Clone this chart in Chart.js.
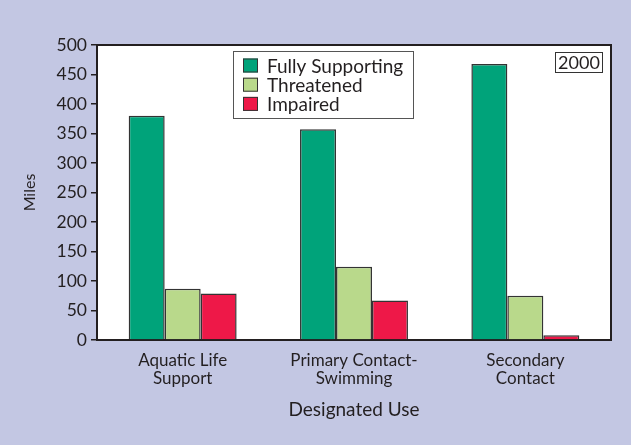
<!DOCTYPE html>
<html>
<head>
<meta charset="utf-8">
<script src="https://cdn.jsdelivr.net/npm/chart.js@4/dist/chart.umd.min.js"></script>
<style>
  html, body { margin: 0; padding: 0; background: #c3c7e3; }
  canvas { display: block; }
</style>
</head>
<body>
<canvas id="c" width="631" height="445"></canvas>
<script>
const categories = [["Aquatic Life", "Support"], ["Primary Contact-", "Swimming"], ["Secondary", "Contact"]];
const seriesNames = ["Fully Supporting", "Threatened", "Impaired"];
const fullySupporting = [380, 357, 468];
const threatened = [87, 124, 75];
const impaired = [79, 67, 8];
const yTicks = [0, 50, 100, 150, 200, 250, 300, 350, 400, 450, 500];
const yearLabel = "2000";
const yTitle = "Miles";
const xTitle = "Designated Use";

const colors = ["#00a37a", "#b9d98b", "#ee1848"];
const FONT = "Lato, 'Open Sans', sans-serif";
const TEXT = "#231f20";

const areaPlugin = {
  id: 'area',
  beforeDraw(chart) {
    const {ctx, chartArea: a} = chart;
    ctx.save();
    ctx.fillStyle = '#c3c7e3';
    ctx.fillRect(0, 0, chart.width, chart.height);
    ctx.fillStyle = '#ffffff';
    ctx.fillRect(a.left, a.top, a.right - a.left, a.bottom - a.top);
    ctx.restore();
  },
  afterDraw(chart) {
    const {ctx, chartArea: a} = chart;
    ctx.save();
    ctx.strokeStyle = '#231f20';
    ctx.lineWidth = 2;
    ctx.beginPath();
    ctx.moveTo(a.left, a.top);
    ctx.lineTo(a.right, a.top);
    ctx.lineTo(a.right, a.bottom);
    ctx.stroke();

    // legend box
    const lx = 233, ly = 51, lw = 180, lh = 67;
    ctx.fillStyle = '#ffffff';
    ctx.fillRect(lx, ly, lw, lh);
    ctx.strokeStyle = '#555555';
    ctx.lineWidth = 1;
    ctx.strokeRect(lx + 0.5, ly + 0.5, lw, lh);
    ctx.font = "19px " + FONT;
    ctx.textBaseline = 'middle';
    ctx.textAlign = 'left';
    chart.data.datasets.forEach((ds, i) => {
      const cy = 65.5 + i * 19.2;
      ctx.fillStyle = ds.backgroundColor;
      ctx.fillRect(243, cy - 7, 15, 14);
      ctx.strokeStyle = '#333333';
      ctx.strokeRect(243.5, cy - 6.5, 14, 13);
      ctx.fillStyle = TEXT;
      ctx.fillText(ds.label, 267, cy + 1);
    });

    // year box
    ctx.fillStyle = '#ffffff';
    ctx.fillRect(555, 52, 48, 21);
    ctx.strokeStyle = '#333333';
    ctx.strokeRect(555.5, 52.5, 47, 20);
    ctx.fillStyle = TEXT;
    ctx.font = "18px " + FONT;
    ctx.textAlign = 'center';
    ctx.fillText(yearLabel, 579, 63.5);
    ctx.restore();
  }
};

new Chart(document.getElementById('c'), {
  type: 'bar',
  data: {
    labels: categories,
    datasets: [
      { label: seriesNames[0], data: fullySupporting, backgroundColor: colors[0] },
      { label: seriesNames[1], data: threatened, backgroundColor: colors[1] },
      { label: seriesNames[2], data: impaired, backgroundColor: colors[2] }
    ].map(d => Object.assign(d, { borderColor: '#333333', borderWidth: 1.5, borderSkipped: 'bottom', categoryPercentage: 0.63, barPercentage: 1.0 }))
  },
  options: {
    responsive: false,
    animation: false,
    layout: { padding: { top: 45, right: 20, left: 0, bottom: 0 } },
    plugins: { legend: { display: false }, tooltip: { enabled: false } },
    scales: {
      x: {
        grid: { display: false, drawTicks: false },
        border: { color: '#231f20', width: 2 },
        ticks: { color: TEXT, font: { family: FONT, size: 17, lineHeight: 1.05 }, padding: 12, maxRotation: 0 },
        title: { display: true, text: xTitle, color: TEXT, font: { family: FONT, size: 19 }, padding: { top: 0, bottom: 24 } },
        afterFit(s) { s.height = 105; }
      },
      y: {
        min: 0, max: 500,
        afterBuildTicks(s) { s.ticks = yTicks.map(v => ({ value: v })); },
        grid: { drawOnChartArea: false, drawTicks: true, tickLength: 6, color: '#231f20', lineWidth: 1.5 },
        border: { color: '#231f20', width: 2 },
        ticks: { color: TEXT, font: { family: FONT, size: 17.5 }, padding: 4 },
        title: { display: true, text: yTitle, color: TEXT, font: { family: FONT, size: 16 }, padding: { top: 20, bottom: 0 } },
        afterFit(s) { s.width = 97; }
      }
    }
  },
  plugins: [areaPlugin]
});
</script>
</body>
</html>
